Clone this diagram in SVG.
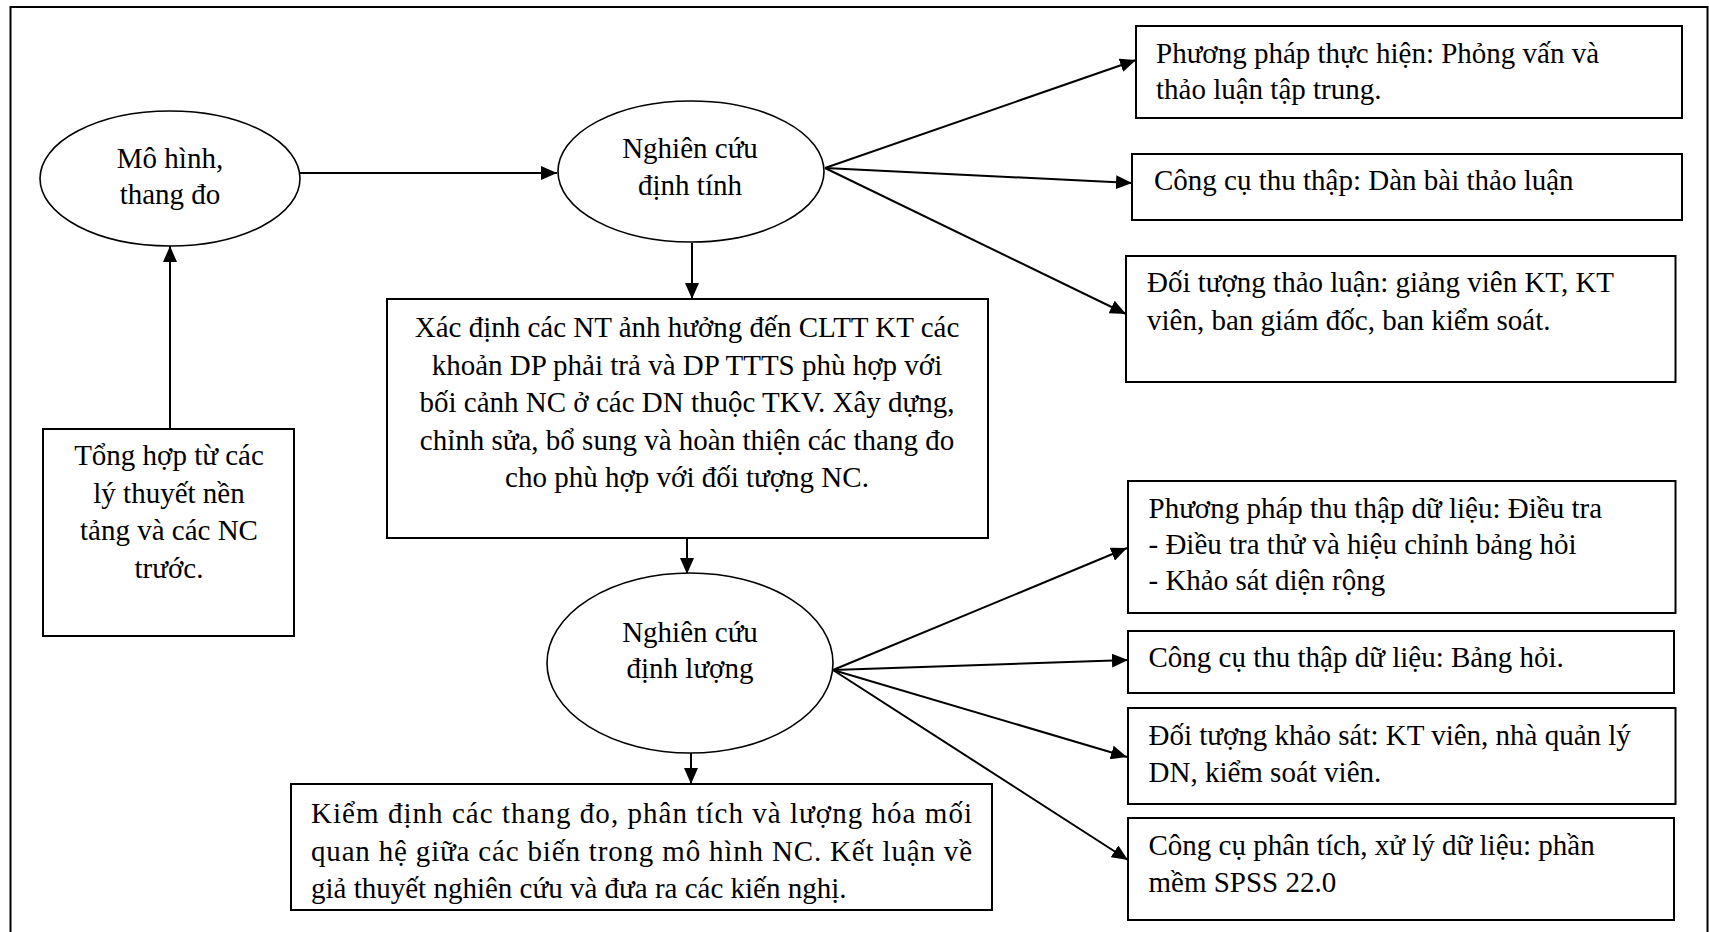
<svg xmlns="http://www.w3.org/2000/svg" width="1709" height="932" viewBox="0 0 1709 932">
<defs>
<style>
.frame{fill:none;stroke:#000;stroke-width:2}
.box{fill:#fff;stroke:#000;stroke-width:2}
.ell{fill:#fff;stroke:#000;stroke-width:1.6}
.t{font-family:"Liberation Serif","Times New Roman",serif;font-size:29px;fill:#000}
.c{text-anchor:middle}
.conn line{stroke:#000;stroke-width:2;marker-end:url(#ah)}
</style>
<marker id="ah" markerUnits="userSpaceOnUse" markerWidth="16" markerHeight="14" refX="16" refY="7" orient="auto">
<path d="M0,0 L16,7 L0,14 z" fill="#000"/>
</marker>
</defs>
<rect width="1709" height="932" fill="#fff"/>
<rect class="frame" x="10.5" y="7" width="1697" height="945"/>

<g id="connectors" class="conn">
<line x1="299" y1="173" x2="557" y2="173"/>
<line x1="170" y1="429" x2="170" y2="246"/>
<line x1="692" y1="243" x2="692" y2="299"/>
<line x1="687" y1="539" x2="687" y2="574"/>
<line x1="691" y1="753" x2="691" y2="784"/>
<line x1="825" y1="168" x2="1136" y2="60"/>
<line x1="825" y1="168" x2="1132" y2="183"/>
<line x1="825" y1="168" x2="1126" y2="314"/>
<line x1="833" y1="670" x2="1127" y2="548"/>
<line x1="833" y1="670" x2="1128" y2="660"/>
<line x1="833" y1="670" x2="1127" y2="757"/>
<line x1="833" y1="670" x2="1128" y2="860"/>
</g>

<g id="mo-hinh">
<ellipse class="ell" cx="170" cy="178.5" rx="130" ry="67.5"/>
<text class="t c" x="170" y="168">Mô hình,</text>
<text class="t c" x="170" y="204">thang đo</text>
</g>

<g id="tong-hop">
<rect class="box" x="43" y="429" width="251" height="207"/>
<text class="t c" x="169" y="465">Tổng hợp từ các</text>
<text class="t c" x="169" y="502.5">lý thuyết nền</text>
<text class="t c" x="169" y="540">tảng và các NC</text>
<text class="t c" x="169" y="577.5">trước.</text>
</g>

<g id="dinh-tinh">
<ellipse class="ell" cx="691" cy="171.5" rx="133" ry="70.5"/>
<text class="t c" x="690" y="158">Nghiên cứu</text>
<text class="t c" x="690" y="195">định tính</text>
</g>

<g id="xac-dinh">
<rect class="box" x="387" y="299" width="601" height="239"/>
<text class="t c" x="687" y="337">Xác định các NT ảnh hưởng đến CLTT KT các</text>
<text class="t c" x="687" y="374.5">khoản DP phải trả và DP TTTS phù hợp với</text>
<text class="t c" x="687" y="412">bối cảnh NC ở các DN thuộc TKV. Xây dựng,</text>
<text class="t c" x="687" y="449.5">chỉnh sửa, bổ sung và hoàn thiện các thang đo</text>
<text class="t c" x="687" y="487">cho phù hợp với đối tượng NC.</text>
</g>

<g id="dinh-luong">
<ellipse class="ell" cx="690" cy="663" rx="143" ry="90"/>
<text class="t c" x="690" y="642">Nghiên cứu</text>
<text class="t c" x="690" y="678">định lượng</text>
</g>

<g id="kiem-dinh">
<rect class="box" x="291" y="784" width="701" height="126"/>
<text class="t" x="311" y="823" textLength="661" lengthAdjust="spacing">Kiểm định các thang đo, phân tích và lượng hóa mối</text>
<text class="t" x="311" y="861" textLength="661" lengthAdjust="spacing">quan hệ giữa các biến trong mô hình NC. Kết luận về</text>
<text class="t" x="311" y="898">giả thuyết nghiên cứu và đưa ra các kiến nghị.</text>
</g>

<g id="pp-thuc-hien">
<rect class="box" x="1136" y="26" width="546" height="92"/>
<text class="t" x="1156" y="63">Phương pháp thực hiện: Phỏng vấn và</text>
<text class="t" x="1156" y="99">thảo luận tập trung.</text>
</g>

<g id="cc-thu-thap">
<rect class="box" x="1132" y="154" width="550" height="66"/>
<text class="t" x="1154" y="190">Công cụ thu thập: Dàn bài thảo luận</text>
</g>

<g id="dt-thao-luan">
<rect class="box" x="1126" y="256" width="549.5" height="126"/>
<text class="t" x="1147" y="292">Đối tượng thảo luận: giảng viên KT, KT</text>
<text class="t" x="1147" y="330">viên, ban giám đốc, ban kiểm soát.</text>
</g>

<g id="pp-thu-thap">
<rect class="box" x="1128" y="481" width="547.5" height="132"/>
<text class="t" x="1148.5" y="518">Phương pháp thu thập dữ liệu: Điều tra</text>
<text class="t" x="1148.5" y="554">- Điều tra thử và hiệu chỉnh bảng hỏi</text>
<text class="t" x="1148.5" y="590">- Khảo sát diện rộng</text>
</g>

<g id="cc-du-lieu">
<rect class="box" x="1128" y="631" width="546" height="62"/>
<text class="t" x="1148.5" y="667">Công cụ thu thập dữ liệu: Bảng hỏi.</text>
</g>

<g id="dt-khao-sat">
<rect class="box" x="1128" y="708" width="547.5" height="96"/>
<text class="t" x="1148.5" y="745">Đối tượng khảo sát: KT viên, nhà quản lý</text>
<text class="t" x="1148.5" y="782">DN, kiểm soát viên.</text>
</g>

<g id="cc-phan-tich">
<rect class="box" x="1128" y="818" width="546" height="102"/>
<text class="t" x="1148.5" y="855">Công cụ phân tích, xử lý dữ liệu: phần</text>
<text class="t" x="1148.5" y="892">mềm SPSS 22.0</text>
</g>
</svg>
